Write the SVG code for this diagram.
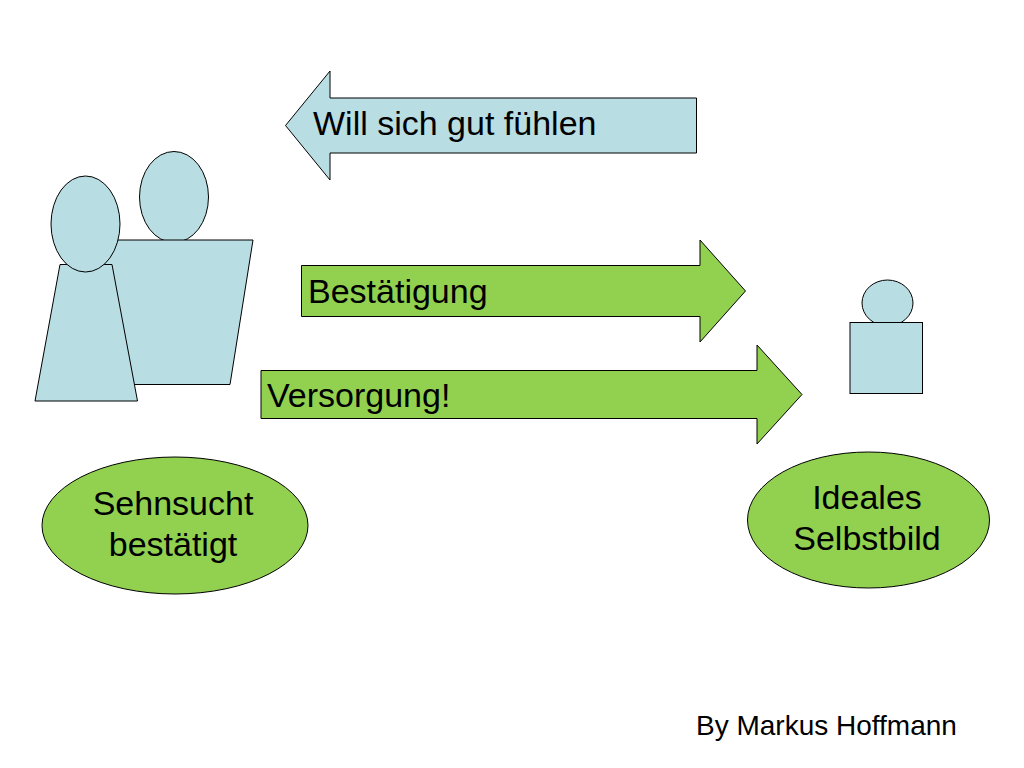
<svg xmlns="http://www.w3.org/2000/svg" width="1024" height="768" viewBox="0 0 1024 768">
<style>
.b{fill:#b8dde2;stroke:#000;stroke-width:1}
.g{fill:#92d050;stroke:#000;stroke-width:1}
text{font-family:"Liberation Sans",Arial,sans-serif;fill:#000}
.l{font-size:34px}
.m{font-size:34px;text-anchor:middle}
</style>
<rect width="1024" height="768" fill="#fff"/>
<g id="connectors">
<g id="arrow-will"><polygon class="b" points="696.500,98 330,98 330,71 285.500,125.500 330,180 330,153 696.500,153"/><text class="l" x="313" y="135">Will sich gut fühlen</text></g>
<g id="arrow-bestaetigung"><polygon class="g" points="301.500,265.500 700,265.500 700,240 745.500,291 700,342 700,316.500 301.500,316.500"/><text class="l" x="308" y="303">Bestätigung</text></g>
<g id="arrow-versorgung"><polygon class="g" points="261,370.500 757,370.500 757,345 802,394.500 757,444 757,418.500 261,418.500"/><text class="l" x="267" y="407">Versorgung!</text></g>
</g>
<g id="person-back"><ellipse class="b" cx="174" cy="197" rx="34.500" ry="45.500"/><polygon class="b" points="95,240 253,240 230,384.500 118,384.500"/></g>
<g id="person-front"><polygon class="b" points="60,264.500 112,264.500 137.500,401 35,401"/><ellipse class="b" cx="85.500" cy="224" rx="34.500" ry="48"/></g>
<g id="person-small"><ellipse class="b" cx="887.500" cy="303" rx="25.500" ry="23"/><rect class="b" x="850" y="322.500" width="72.500" height="71"/></g>
<g id="ellipse-sehnsucht"><ellipse class="g" cx="175" cy="525.500" rx="133" ry="68.500"/><text class="m" x="173" y="515">Sehnsucht</text><text class="m" x="173" y="556">bestätigt</text></g>
<g id="ellipse-ideales"><ellipse class="g" cx="868.500" cy="520" rx="121" ry="68"/><text class="m" x="867" y="509">Ideales</text><text class="m" x="867" y="550">Selbstbild</text></g>
<g id="credit"><text x="696" y="735" font-size="28">By Markus Hoffmann</text></g>
</svg>
